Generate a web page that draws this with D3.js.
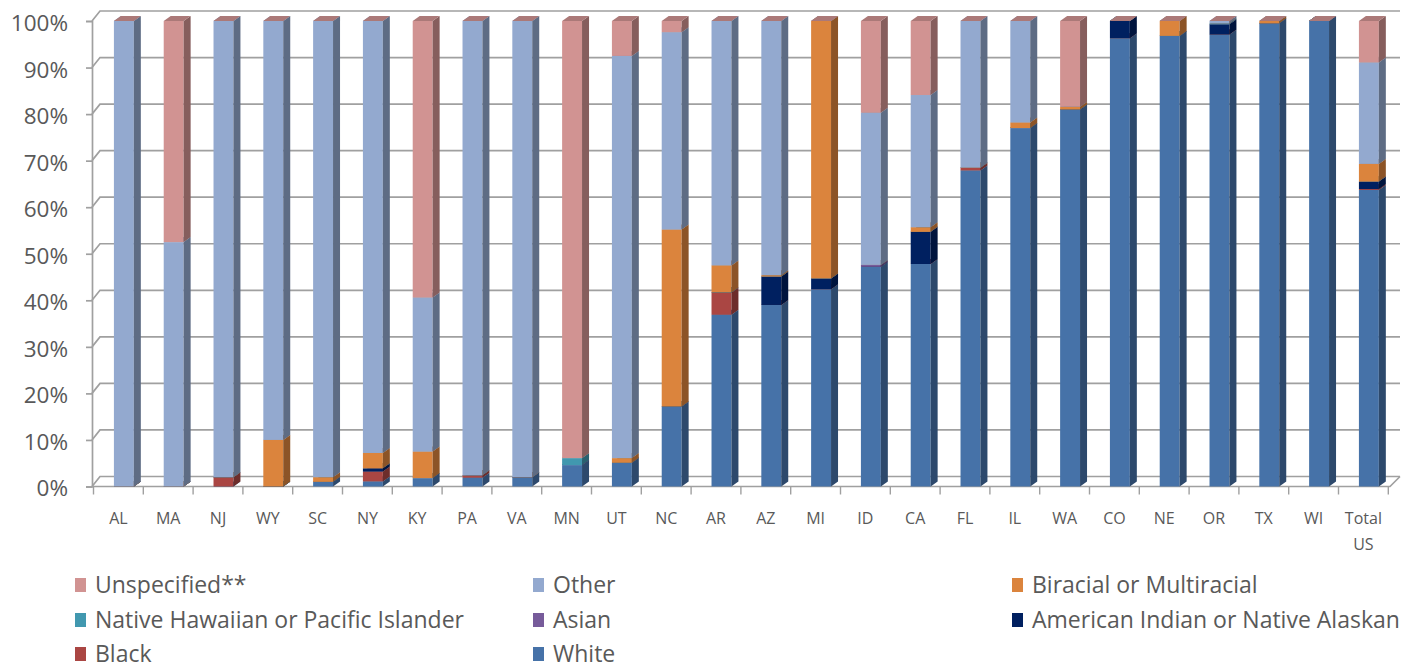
<!DOCTYPE html>
<html>
<head>
<meta charset="utf-8">
<script src="https://cdn.jsdelivr.net/npm/d3@7"></script>
<style>
  html, body { margin: 0; padding: 0; background: #fff; }
  svg { display: block; font-family: "Open Sans", "Lato", sans-serif; }
</style>
</head>
<body>
<svg id="chart" width="1405" height="670"></svg>
<script>
// ---------- data ----------
const categories = ["AL","MA","NJ","WY","SC","NY","KY","PA","VA","MN","UT","NC","AR","AZ","MI","ID","CA","FL","IL","WA","CO","NE","OR","TX","WI","Total US"];

const white       = [0,   0,    0,  0,  1.0, 1.1, 1.8, 1.9, 2.0, 4.6, 5.1, 17.2, 36.9, 39.0, 42.4, 47.2, 47.8, 67.9, 77.0, 81.0, 96.3, 96.8, 97.1, 99.5, 100, 63.7];
const black       = [0,   0,    2.0,0,  0,   2.1, 0,   0.5, 0,   0,   0,   0,    4.8,  0,    0,    0,    0,    0.6,  0,    0,    0,    0,    0,    0,    0,   0.2];
const amerIndian  = [0,   0,    0,  0,  0,   0.7, 0,   0,   0,   0,   0,   0,    0,    6.1,  2.3,  0,    6.9,  0,    0,    0,    3.7,  0,    2.2,  0,    0,   1.6];
const asian       = [0,   0,    0,  0,  0,   0,   0,   0,   0,   0,   0,   0,    0,    0,    0,    0.4,  0,    0,    0,    0,    0,    0,    0,    0,    0,   0];
const nativeHaw   = [0,   0,    0,  0,  0,   0,   0,   0,   0,   1.5, 0,   0,    0,    0,    0,    0,    0,    0,    0,    0,    0,    0,    0.2,  0,    0,   0];
const biracial    = [0,   0,    0,  10, 1.0, 3.3, 5.7, 0,   0,   0,   1.0, 38.0, 5.8,  0.3,  55.3, 0,    1.0,  0,    1.2,  0.6,  0,    3.2,  0,    0.5,  0,   3.8];
const other       = [100, 52.5, 98, 90, 98,  92.8,33.1,97.6,98,  0,   86.4,42.4, 52.5, 54.6, 0,    32.7, 28.4, 31.5, 21.8, 0,    0,    0,    0.5,  0,    0,   21.8];
const unspecified = [0,   47.5, 0,  0,  0,   0,   59.4,0,   0,   93.9,7.5, 2.4,  0,    0,    0,    19.7, 15.9, 0,    0,    18.4, 0,    0,    0,    0,    0,   8.9];

const seriesNames  = ["White","Black","American Indian or Native Alaskan","Asian","Native Hawaiian or Pacific Islander","Biracial or Multiracial","Other","Unspecified**"];
const seriesValues = [white, black, amerIndian, asian, nativeHaw, biracial, other, unspecified];
const seriesColors = ["#4672A8","#AA4643","#002060","#775B9A","#4198AF","#DB843D","#93A9CF","#D19392"];
const legendOrder  = ["Unspecified**","Other","Biracial or Multiracial","Native Hawaiian or Pacific Islander","Asian","American Indian or Native Alaskan","Black","White"];
const yTicks = [0,10,20,30,40,50,60,70,80,90,100];

// ---------- layout ----------
const svg = d3.select("#chart");
const textColor = "#595959";
const gridColor = "#a0a0a0";
const axisX = 92;
const wallDx = 8, wallDy = -10;   // back-wall offset
const barDx = 7, barDy = -5;      // bar depth

const x = d3.scaleBand().domain(categories).range([93.5, 1388.3]).paddingInner(0).paddingOuter(0);
const y = d3.scaleLinear().domain([0, 100]).range([486.5, 21]);

// table rows for stacking
const rows = categories.map((c, i) => {
  const r = { cat: c };
  seriesNames.forEach((s, k) => r[s] = seriesValues[k][i]);
  return r;
});
const stacked = d3.stack().keys(seriesNames)(rows);

// ---------- walls / gridlines ----------
const grid = svg.append("g");
yTicks.forEach(t => {
  const yy = y(t);
  grid.append("path")
    .attr("d", `M${axisX},${yy} L${axisX + wallDx},${yy + wallDy} L1400,${yy + wallDy}`)
    .attr("fill", "none").attr("stroke", gridColor).attr("stroke-width", 1.7);
});
// floor front edge + right edge
grid.append("path")
  .attr("d", `M${axisX},${y(0)} L1390,${y(0)} L1400,${y(0) + wallDy}`)
  .attr("fill", "none").attr("stroke", gridColor).attr("stroke-width", 1.7);

// category boundary ticks
const bounds = categories.map(c => x(c)).concat([x.range()[1]]);
grid.selectAll("line.ctick").data(bounds).join("line")
  .attr("x1", d => d).attr("x2", d => d)
  .attr("y1", y(0)).attr("y2", y(0) + 8)
  .attr("stroke", gridColor).attr("stroke-width", 1.4);

// y axis
const yAxis = svg.append("g").attr("transform", `translate(${axisX},0)`)
  .call(d3.axisLeft(y).tickValues(yTicks).tickFormat(d => d + "%").tickSize(6).tickPadding(18));
yAxis.select(".domain").attr("stroke", gridColor).attr("stroke-width", 1.7);
yAxis.selectAll(".tick line").attr("stroke", gridColor).attr("stroke-width", 1.7);
yAxis.selectAll(".tick text").attr("fill", textColor).attr("font-size", 22.5)
  .attr("font-family", "'Open Sans', Lato, sans-serif").attr("dy", "0.42em");

// x axis labels
const xAxis = svg.append("g").attr("transform", `translate(0,${y(0)})`)
  .call(d3.axisBottom(x).tickSize(0).tickPadding(0));
xAxis.select(".domain").remove();
xAxis.selectAll(".tick text").each(function(d) {
  const t = d3.select(this);
  t.text(null).attr("fill", textColor).attr("font-size", 16)
   .attr("font-family", "'Open Sans', Lato, sans-serif").attr("dy", null).attr("y", 0);
  const parts = d.split(" ");
  parts.forEach((p, i) => {
    t.append("tspan").attr("x", 0).attr("y", 37 + i * 26).text(p);
  });
});

// ---------- bars ----------
const shade = (c, f) => { const o = d3.rgb(c); return d3.rgb(o.r * f, o.g * f, o.b * f).formatHex(); };
const barsG = svg.append("g");
const bw = x.bandwidth() * 0.4;
const off = x.bandwidth() * 0.41;

categories.forEach((c, i) => {
  const x0 = x(c) + off, x1 = x0 + bw;
  stacked.forEach((layer, k) => {
    const seg = layer[i];
    const yb = y(seg[0]), yt = y(seg[1]);
    const col = seriesColors[k];
    const g = barsG.append("g");
    // front face
    g.append("rect").attr("x", x0).attr("y", yt).attr("width", bw).attr("height", Math.max(0, yb - yt))
      .attr("fill", col);
    // side face
    g.append("path")
      .attr("d", `M${x1},${yb} L${x1 + barDx},${yb + barDy} L${x1 + barDx},${yt + barDy} L${x1},${yt} Z`)
      .attr("fill", shade(col, 0.64));
    // top face
    g.append("path")
      .attr("d", `M${x0},${yt} L${x1},${yt} L${x1 + barDx},${yt + barDy} L${x0 + barDx},${yt + barDy} Z`)
      .attr("fill", shade(col, 0.82));
  });
});

// ---------- legend ----------
const colX = [75, 533, 1012];
const rowY = [585, 620, 654];
const legend = svg.append("g");
legendOrder.forEach((name, j) => {
  const k = seriesNames.indexOf(name);
  const cx = colX[j % 3], cy = rowY[Math.floor(j / 3)];
  legend.append("rect").attr("x", cx).attr("y", cy - 7).attr("width", 11).attr("height", 14)
    .attr("fill", seriesColors[k]);
  legend.append("text").attr("x", cx + 20).attr("y", cy).attr("dy", "0.36em")
    .attr("fill", textColor).attr("font-size", 23).text(name);
});
</script>
</body>
</html>
